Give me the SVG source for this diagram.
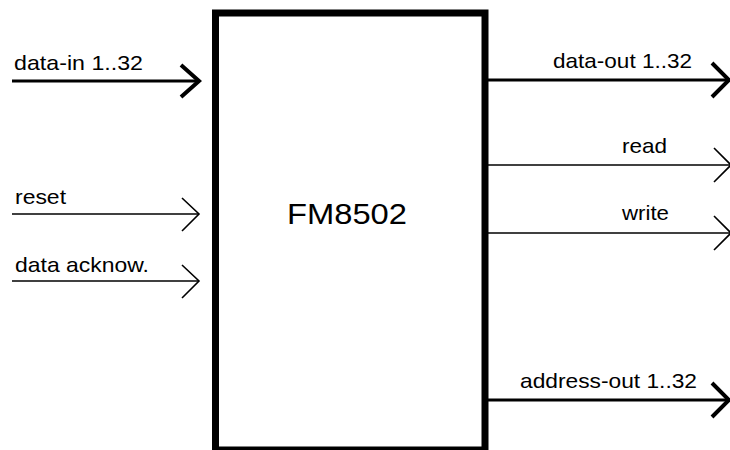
<svg xmlns="http://www.w3.org/2000/svg" width="730" height="450" viewBox="0 0 730 450">
<style>
.lbl{font-family:"Liberation Sans",Arial,sans-serif;font-size:21px;fill:#000}
.thick{stroke:#000;stroke-width:3.2;fill:none}
.thin{stroke:#000;stroke-width:1.6;fill:none}
.headthick{stroke:#000;stroke-width:4;fill:none;stroke-linecap:butt}
.headthin{stroke:#000;stroke-width:1.6;fill:none}
</style>
<rect width="730" height="450" fill="#fff"/>
<g id="fm8502">
<rect x="215.5" y="13" width="269.5" height="437" fill="#fff" stroke="#000" stroke-width="7"/>
<text x="347" y="224" text-anchor="middle" font-family="Liberation Sans,Arial,sans-serif" font-size="29" textLength="120" lengthAdjust="spacingAndGlyphs">FM8502</text>
</g>
<g id="connectors">
<g id="data-in">
<line class="thick" x1="12" y1="81" x2="199" y2="81"/>
<polyline class="headthick" points="181,65 199,81 181,97"/>
<text class="lbl" x="14" y="70" textLength="129" lengthAdjust="spacingAndGlyphs">data-in 1..32</text>
</g>
<g id="reset">
<line class="thin" x1="12" y1="214" x2="199" y2="214"/>
<polyline class="headthin" points="182,198 199,214 182,231"/>
<text class="lbl" x="15" y="204" textLength="51" lengthAdjust="spacingAndGlyphs">reset</text>
</g>
<g id="data-ack">
<line class="thin" x1="12" y1="281" x2="199" y2="281"/>
<polyline class="headthin" points="182,265 199,281 182,298"/>
<text class="lbl" x="15" y="272" textLength="134" lengthAdjust="spacingAndGlyphs">data acknow.</text>
</g>
<g id="data-out">
<line class="thick" x1="488" y1="80" x2="730" y2="80"/>
<polyline class="headthick" points="712,63 729,80 712,97"/>
<text class="lbl" x="553" y="68" textLength="139" lengthAdjust="spacingAndGlyphs">data-out 1..32</text>
</g>
<g id="read">
<line class="thin" x1="488" y1="165" x2="730" y2="165"/>
<polyline class="headthin" points="714,148 731,165 714,182"/>
<text class="lbl" x="622" y="153" textLength="45" lengthAdjust="spacingAndGlyphs">read</text>
</g>
<g id="write">
<line class="thin" x1="488" y1="233" x2="730" y2="233"/>
<polyline class="headthin" points="714,216 731,233 714,250"/>
<text class="lbl" x="622" y="220" textLength="47" lengthAdjust="spacingAndGlyphs">write</text>
</g>
<g id="address-out">
<line class="thick" x1="488" y1="400" x2="730" y2="400"/>
<polyline class="headthick" points="712,383 729,400 712,417"/>
<text class="lbl" x="520" y="388" textLength="177" lengthAdjust="spacingAndGlyphs">address-out 1..32</text>
</g>
</g>
</svg>
